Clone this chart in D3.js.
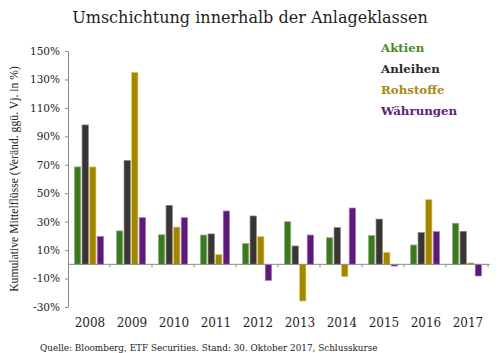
<!DOCTYPE html>
<html lang="de">
<head>
<meta charset="utf-8">
<script src="https://d3js.org/d3.v7.min.js"></script>
<style>
  body { margin: 0; background: #fff; }
  svg { display: block; font-family: "DejaVu Serif", serif; }
</style>
</head>
<body>
<svg width="500" height="353"></svg>
<script>
// data
const years = ["2008","2009","2010","2011","2012","2013","2014","2015","2016","2017"]
const aktien    = [68.5, 23.5, 20.8, 20.6, 14.6, 30.0, 18.7, 20.2, 13.6, 28.9]
const anleihen  = [98.0, 73.0, 41.5, 21.4, 34.0, 12.9, 25.8, 31.8, 22.3, 23.2]
const rohstoffe = [68.5, 135.0, 26.2, 7.0, 19.5, -25.8, -8.7, 8.5, 45.5, 1.0]
const waehrungen = [19.6, 32.8, 32.8, 37.5, -11.3, 20.6, 39.6, -1.2, 23.0, -8.2]
const seriesNames = ["Aktien","Anleihen","Rohstoffe","Währungen"]
const yTicks = [150, 130, 110, 90, 70, 50, 30, 10, -10, -30]

const barColors  = ["#3c7a22", "#3a3532", "#a38600", "#5c1a7a"]
const edgeColors = ["#8fb877", "#8a8583", "#e0cf6a", "#a777bd"]
const textColors = ["#4a8a2a", "#2b2b2b", "#a88b12", "#5c1d7c"]

const svg = d3.select("svg")
const margins = {top: 51, bottom: 46, left: 68, right: 12}

const allValues = [aktien, anleihen, rohstoffe, waehrungen]
const table = years.map((y, i) => ({year: y, values: allValues.map(s => s[i])}))

const yScale = d3.scaleLinear().domain([-30, 150]).range([307, margins.top])
const x0 = d3.scaleBand().domain(years).range([margins.left, 488])
const x1 = d3.scaleBand().domain(d3.range(4)).range([0, x0.bandwidth()])
             .paddingInner(0.17).paddingOuter(0.85)

// fit a text element to a width in px
function fit(sel, width) {
    const fs = parseFloat(sel.style("font-size"))
    const w = sel.node().getComputedTextLength()
    sel.style("font-size", (fs * width / w) + "px")
}

// title
const title = svg.append("text").attr("x", 250).attr("y", 23)
    .attr("text-anchor", "middle").style("font-size", "17px").style("fill", "#1e1e1e")
    .text("Umschichtung innerhalb der Anlageklassen")
fit(title, 356)

// bars
const groups = svg.selectAll("g.year").data(table).enter().append("g")
    .attr("class", "year")
    .attr("transform", d => "translate(" + x0(d.year) + ",0)")

groups.selectAll("rect").data(d => d.values).enter().append("rect")
    .attr("x", (d, i) => x1(i))
    .attr("width", x1.bandwidth())
    .attr("y", d => yScale(Math.max(0, d)))
    .attr("height", d => Math.abs(yScale(d) - yScale(0)))
    .style("fill", (d, i) => barColors[i])
    .style("stroke", (d, i) => edgeColors[i])
    .style("stroke-width", 0.7)

// y axis
const yAxis = svg.append("g")
    .attr("transform", "translate(" + margins.left + ",0)")
    .call(d3.axisLeft(yScale).tickValues(yTicks).tickSize(3).tickSizeOuter(0)
          .tickFormat(d => d + "%"))
yAxis.select(".domain").attr("stroke", "#8a8a8a")
yAxis.selectAll(".tick line").attr("stroke", "#8a8a8a")
yAxis.selectAll(".tick text").attr("x", -8)
    .style("font-size", "10.5px").style("fill", "#222").style("font-family", "DejaVu Serif, serif")

// x axis at zero
const xAxis = svg.append("g")
    .attr("transform", "translate(0," + yScale(0) + ")")
xAxis.append("line")
    .attr("x1", margins.left).attr("x2", 490)
    .attr("stroke", "#8a8a8a")
xAxis.selectAll("line.tk").data(years).enter().append("line")
    .attr("class", "tk")
    .attr("x1", d => x0(d) + x0.bandwidth()).attr("x2", d => x0(d) + x0.bandwidth())
    .attr("y1", 0).attr("y2", 3)
    .attr("stroke", "#8a8a8a")

// year labels
svg.selectAll("text.year").data(years).enter().append("text")
    .attr("class", "year")
    .attr("x", d => x0(d) + x0.bandwidth() / 2 + 1)
    .attr("y", 327)
    .attr("text-anchor", "middle")
    .style("font-size", "12px").style("fill", "#1e1e1e")
    .text(d => d)

// y label
const yLabel = svg.append("text")
    .attr("transform", "translate(18,179) rotate(-90)")
    .attr("text-anchor", "middle")
    .style("font-family", "Liberation Serif, serif")
    .style("font-size", "11px").style("fill", "#222")
    .text("Kumulative Mittelflüsse (Veränd. ggü. Vj. in %)")
fit(yLabel, 226)

// legend
svg.selectAll("text.legend").data(seriesNames).enter().append("text")
    .attr("class", "legend")
    .attr("x", 381)
    .attr("y", (d, i) => 51.5 + i * 21)
    .style("font-size", "11.8px").style("font-weight", "bold")
    .style("fill", (d, i) => textColors[i])
    .text(d => d)

// source
const source = svg.append("text").attr("x", 40).attr("y", 351)
    .style("font-size", "10px").style("fill", "#222")
    .text("Quelle: Bloomberg, ETF Securities. Stand: 30. Oktober 2017, Schlusskurse")
fit(source, 338)
</script>
</body>
</html>
